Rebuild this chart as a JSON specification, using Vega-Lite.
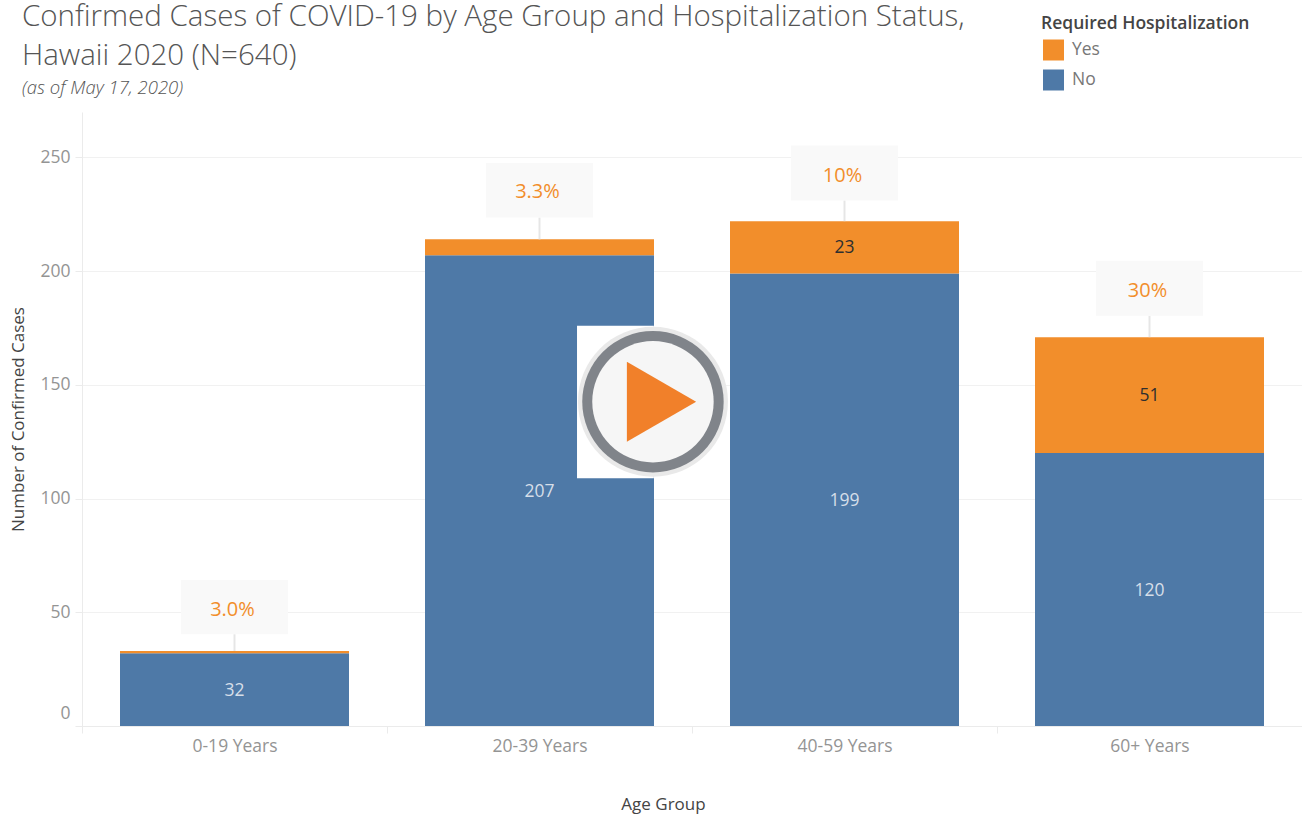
{
"$schema":"https://vega.github.io/schema/vega-lite/v6.json",
"width":1220,"height":614,
"autosize":{"type":"none"},
"padding":{"left":82,"top":112,"right":0,"bottom":88},
"background":"white",
"title":{"text":["Confirmed Cases of COVID-19 by Age Group and Hospitalization Status,","Hawaii 2020 (N=640)"],"subtitle":"(as of May 17, 2020)","anchor":"start","frame":"group","dx":-60,"dy":97,"offset":14,"font":"Open Sans","fontWeight":300,"fontSize":29.5,"lineHeight":39,"color":"#555555","subtitleFont":"Open Sans","subtitleFontStyle":"italic","subtitleFontWeight":300,"subtitleFontSize":18.5,"subtitleColor":"#555555","subtitlePadding":7},
"config":{"view":{"stroke":null},"font":"Open Sans"},
"datasets":{
"cases":[
{"age":"0-19 Years","status":"No","count":32,"rank":1},
{"age":"0-19 Years","status":"Yes","count":1,"rank":2},
{"age":"20-39 Years","status":"No","count":207,"rank":1},
{"age":"20-39 Years","status":"Yes","count":7,"rank":2},
{"age":"40-59 Years","status":"No","count":199,"rank":1},
{"age":"40-59 Years","status":"Yes","count":23,"rank":2},
{"age":"60+ Years","status":"No","count":120,"rank":1},
{"age":"60+ Years","status":"Yes","count":51,"rank":2}
],
"callouts":[
{"age":"0-19 Years","pct":"3.0%","total":33,"boxLow":40.4,"boxHigh":64.2,"labelAt":51},
{"age":"20-39 Years","pct":"3.3%","total":214,"boxLow":223.6,"boxHigh":247.6,"labelAt":234.8},
{"age":"40-59 Years","pct":"10%","total":222,"boxLow":231.1,"boxHigh":255.3,"labelAt":241.8},
{"age":"60+ Years","pct":"30%","total":171,"boxLow":180.4,"boxHigh":204.6,"labelAt":191.5}
],
"play":[{"xStart":1.623,"xEnd":1.875,"yStart":109,"yEnd":176,"cx":1.872,"cy":142.6,"tx":1.9}]
},
"resolve":{"scale":{"x":"independent"}},
"layer":[
{"layer":[
{"data":{"name":"cases"},
"mark":{"type":"bar","size":229},
"encoding":{
"x":{"field":"age","type":"nominal","sort":null,"scale":{"paddingInner":0,"paddingOuter":0},
"axis":{"title":"Age Group","titleX":581,"titleY":70,"labelAngle":0,"tickBand":"extent","labelFontSize":17.5,"labelColor":"#949494","titleFontSize":17,"titleColor":"#444444","titleFontWeight":"normal","tickColor":"#ebebeb","domainColor":"#ebebeb","tickSize":7,"labelPadding":4,"grid":false}},
"y":{"field":"count","type":"quantitative","stack":"zero","scale":{"domain":[0,270],"nice":false},
"axis":{"title":"Number of Confirmed Cases","values":[0,50,100,150,200,250],"labelFontSize":17.5,"labelColor":"#949494","titleFontSize":17,"titleColor":"#444444","titleFontWeight":"normal","titlePadding":12,"tickColor":"#ebebeb","domainColor":"#ebebeb","gridColor":"#f1f1f1","tickSize":7,"labelPadding":5,"labelOffset":{"expr":"datum.value===0?-13:0"}}},
"color":{"field":"status","type":"nominal","scale":{"domain":["Yes","No"],"range":["#f28e2b","#4e79a7"]},
"legend":{"title":"Required Hospitalization","orient":"none","legendX":959,"legendY":-97,"titleLimit":320,"symbolType":"square","symbolSize":441,"symbolStrokeWidth":0,"symbolOpacity":1,"symbolOffset":2,"labelFontSize":17.5,"labelColor":"#777777","titleFontSize":17.5,"titleColor":"#444444","titleFontWeight":600,"titlePadding":7,"rowPadding":9,"labelOffset":8}},
"order":{"field":"rank","type":"quantitative"}
}},
{"data":{"name":"cases"},"transform":[{"filter":"datum.count>=20"}],
"mark":{"type":"text","fontSize":17.5,"dy":1},
"encoding":{
"x":{"field":"age","type":"nominal","sort":null},
"y":{"field":"count","type":"quantitative","stack":"zero","bandPosition":0.5},
"order":{"field":"rank","type":"quantitative"},
"text":{"field":"count","type":"quantitative"},
"color":{"condition":{"test":"datum.status==='Yes'","value":"#2f2f2f"},"value":"#d6dfe9"}
}},
{"data":{"name":"callouts"},
"mark":{"type":"rule","color":"#e6e6e6","strokeWidth":2},
"encoding":{"x":{"field":"age","type":"nominal","sort":null},"y":{"field":"total","type":"quantitative"},"y2":{"field":"boxLow"}}},
{"data":{"name":"callouts"},
"mark":{"type":"bar","size":107,"color":"#f9f9f9"},
"encoding":{"x":{"field":"age","type":"nominal","sort":null},"y":{"field":"boxLow","type":"quantitative"},"y2":{"field":"boxHigh"}}},
{"data":{"name":"callouts"},
"mark":{"type":"text","fontSize":20,"color":"#f28e2b","dx":-2},
"encoding":{"x":{"field":"age","type":"nominal","sort":null},"y":{"field":"labelAt","type":"quantitative"},"text":{"field":"pct","type":"nominal"}}}
]},
{"data":{"name":"play"},"layer":[
{"mark":{"type":"rect","color":"white"},
"encoding":{"x":{"field":"xStart","type":"quantitative","scale":{"domain":[0,4],"nice":false,"zero":false},"axis":null},"x2":{"field":"xEnd"},"y":{"field":"yStart","type":"quantitative"},"y2":{"field":"yEnd"}}},
{"mark":{"type":"point","filled":true,"shape":"circle","size":22500,"color":"#e9e9e9","opacity":1},
"encoding":{"x":{"field":"cx","type":"quantitative"},"y":{"field":"cy","type":"quantitative"}}},
{"mark":{"type":"point","filled":true,"shape":"circle","size":20000,"color":"#80848a","opacity":1},
"encoding":{"x":{"field":"cx","type":"quantitative"},"y":{"field":"cy","type":"quantitative"}}},
{"mark":{"type":"point","filled":true,"shape":"circle","size":14740,"color":"#f6f6f6","opacity":1},
"encoding":{"x":{"field":"cx","type":"quantitative"},"y":{"field":"cy","type":"quantitative"}}},
{"mark":{"type":"point","filled":true,"shape":"triangle-right","size":6400,"color":"#f1802a","opacity":1},
"encoding":{"x":{"field":"tx","type":"quantitative"},"y":{"field":"cy","type":"quantitative"}}}
]}
]
}
